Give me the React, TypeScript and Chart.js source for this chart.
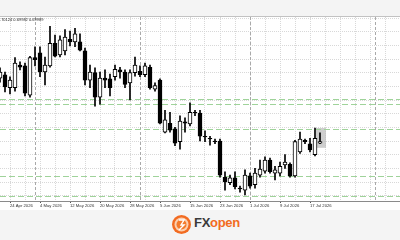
import React, { useEffect, useRef } from "react";
import { Chart, registerables } from "chart.js";

Chart.register(...registerables);

// ---------- data ----------
const dates = [
  "22 Apr 2026", "23 Apr 2026", "24 Apr 2026", "27 Apr 2026", "28 Apr 2026", "29 Apr 2026", "30 Apr 2026",
  "1 May 2026", "4 May 2026", "5 May 2026", "6 May 2026", "7 May 2026", "8 May 2026", "11 May 2026",
  "12 May 2026", "13 May 2026", "14 May 2026", "15 May 2026", "18 May 2026", "19 May 2026", "20 May 2026",
  "21 May 2026", "22 May 2026", "25 May 2026", "26 May 2026", "27 May 2026", "28 May 2026", "29 May 2026",
  "1 Jun 2026", "2 Jun 2026", "3 Jun 2026", "4 Jun 2026", "5 Jun 2026", "8 Jun 2026", "9 Jun 2026",
  "10 Jun 2026", "11 Jun 2026", "12 Jun 2026", "15 Jun 2026", "16 Jun 2026", "17 Jun 2026", "18 Jun 2026",
  "19 Jun 2026", "22 Jun 2026", "23 Jun 2026", "24 Jun 2026", "25 Jun 2026", "26 Jun 2026", "29 Jun 2026",
  "30 Jun 2026", "1 Jul 2026", "2 Jul 2026", "3 Jul 2026", "6 Jul 2026", "7 Jul 2026", "8 Jul 2026",
  "9 Jul 2026", "10 Jul 2026", "13 Jul 2026", "14 Jul 2026", "15 Jul 2026", "16 Jul 2026", "17 Jul 2026",
  "20 Jul 2026", "21 Jul 2026",
];

const opens = [
  0.7092, 0.7097, 0.7078, 0.7078, 0.7111, 0.7110, 0.7067, 0.7122, 0.7129, 0.7101,
  0.7110, 0.7143, 0.7126, 0.7132, 0.7149, 0.7145, 0.7145, 0.7132, 0.7089, 0.7100,
  0.7064, 0.7092, 0.7091, 0.7094, 0.7104, 0.7101, 0.7085, 0.7100, 0.7102, 0.7097,
  0.7108, 0.7076, 0.7089, 0.7013, 0.7026, 0.7018, 0.6999, 0.7028, 0.7025, 0.7042,
  0.7041, 0.7007, 0.7004, 0.7000, 0.7000, 0.6947, 0.6939, 0.6946, 0.6931, 0.6928,
  0.6949, 0.6936, 0.6950, 0.6956, 0.6972, 0.6953, 0.6953, 0.6965, 0.6966, 0.6949,
  0.6984, 0.7001, 0.6996, 0.6980, 0.6997,
];
const highs = [
  0.7107, 0.7101, 0.7094, 0.7122, 0.7116, 0.7114, 0.7124, 0.7138, 0.7138, 0.7123,
  0.7168, 0.7155, 0.7154, 0.7163, 0.7161, 0.7165, 0.7157, 0.7136, 0.7111, 0.7107,
  0.7101, 0.7104, 0.7098, 0.7111, 0.7108, 0.7104, 0.7104, 0.7123, 0.7110, 0.7114,
  0.7111, 0.7085, 0.7091, 0.7045, 0.7042, 0.7020, 0.7037, 0.7034, 0.7056, 0.7045,
  0.7045, 0.7015, 0.7007, 0.7003, 0.7003, 0.6955, 0.6950, 0.6955, 0.6934, 0.6958,
  0.6953, 0.6960, 0.6972, 0.6977, 0.6975, 0.6963, 0.6969, 0.6980, 0.6968, 0.7001,
  0.7013, 0.7003, 0.7004, 0.7019, 0.7012,
];
const lows = [
  0.7086, 0.7072, 0.7069, 0.7073, 0.7104, 0.7066, 0.7064, 0.7110, 0.7094, 0.7082,
  0.7108, 0.7123, 0.7123, 0.7126, 0.7139, 0.7138, 0.7132, 0.7082, 0.7078, 0.7051,
  0.7054, 0.7078, 0.7066, 0.7089, 0.7092, 0.7078, 0.7060, 0.7095, 0.7094, 0.7094,
  0.7076, 0.7073, 0.7025, 0.7012, 0.7013, 0.6993, 0.6988, 0.7013, 0.7022, 0.7037,
  0.7000, 0.6999, 0.6994, 0.6996, 0.6947, 0.6928, 0.6936, 0.6930, 0.6925, 0.6921,
  0.6931, 0.6931, 0.6947, 0.6953, 0.6953, 0.6943, 0.6949, 0.6960, 0.6947, 0.6947,
  0.6982, 0.6996, 0.6984, 0.6978, 0.6996,
];
const closes = [
  0.7101, 0.7079, 0.7089, 0.7114, 0.7108, 0.7070, 0.7122, 0.7119, 0.7101, 0.7111,
  0.7143, 0.7124, 0.7148, 0.7152, 0.7145, 0.7157, 0.7133, 0.7089, 0.7101, 0.7064,
  0.7092, 0.7089, 0.7078, 0.7105, 0.7101, 0.7083, 0.7100, 0.7111, 0.7097, 0.7110,
  0.7078, 0.7081, 0.7026, 0.7031, 0.7016, 0.6997, 0.7029, 0.7026, 0.7042, 0.7041,
  0.7007, 0.7006, 0.7003, 0.6999, 0.6950, 0.6940, 0.6946, 0.6933, 0.6930, 0.6950,
  0.6934, 0.6953, 0.6959, 0.6972, 0.6955, 0.6958, 0.6963, 0.6969, 0.6949, 0.6999,
  0.7003, 0.6999, 0.6987, 0.7004, 0.6999,
];

const futureSlots = 16;
const labelIndices = [2, 8, 14, 20, 26, 32, 38, 44, 50, 56, 62];
const levels = [0.7061, 0.7054, 0.7017, 0.6949, 0.6919];
const separators = [7, 28, 50, 75];
const highlightBox = { from: 63.2, to: 65.2, low: 0.699, high: 0.7019 };
const headerText = "0.70124 0.69982 0.69989";
const yMin = 0.69122;
const yMax = 0.71815;
const yStep = 0.002;

export default function App() {
  const ref = useRef<HTMLCanvasElement>(null);

  useEffect(() => {
    if (!ref.current) return;
    const labels = [...dates, ...Array(futureSlots).fill("")];
    const bodyData = opens.map((o, i) => [o, closes[i]]);
    const wickData = lows.map((l, i) => [l, highs[i]]);
    const up = opens.map((o, i) => closes[i] >= o);

    const overlay = {
      id: "overlay",
      beforeDatasetsDraw(chart: any) {
        const { ctx, chartArea, scales } = chart;
        const xs = scales.x;
        const ys = scales.y;
        ctx.save();
        // highlight box
        const bx0 = xs.getPixelForValue(highlightBox.from);
        const bx1 = xs.getPixelForValue(highlightBox.to);
        const by0 = ys.getPixelForValue(highlightBox.high);
        const by1 = ys.getPixelForValue(highlightBox.low);
        ctx.fillStyle = "rgba(190,190,190,0.75)";
        ctx.fillRect(bx0, by0, bx1 - bx0, by1 - by0);
        // separators
        ctx.strokeStyle = "#a9a9a9";
        ctx.lineWidth = 1;
        ctx.setLineDash([3, 2]);
        separators.forEach((s) => {
          const px = Math.round(xs.getPixelForValue(s)) + 0.5;
          ctx.beginPath();
          ctx.moveTo(px, chartArea.top);
          ctx.lineTo(px, chartArea.bottom);
          ctx.stroke();
        });
        // levels
        ctx.strokeStyle = "#9fd39a";
        ctx.setLineDash([6, 3]);
        levels.forEach((v) => {
          const py = Math.round(ys.getPixelForValue(v)) + 0.5;
          ctx.beginPath();
          ctx.moveTo(chartArea.left, py);
          ctx.lineTo(chartArea.right, py);
          ctx.stroke();
        });
        ctx.restore();
      },
      afterDraw(chart: any) {
        const { ctx } = chart;
        ctx.save();
        ctx.font = "4px 'Liberation Sans', Arial, sans-serif";
        ctx.fillStyle = "#222";
        ctx.textBaseline = "top";
        ctx.fillText(headerText, -2.2, 1);
        ctx.restore();
      },
    };

    const chart = new Chart(ref.current, {
      type: "bar",
      data: {
        labels,
        datasets: [
          {
            label: "body",
            data: bodyData as any,
            backgroundColor: up.map((u) => (u ? "#ffffff" : "#000000")),
            borderColor: "#000000",
            borderWidth: 1,
            borderSkipped: false,
            barThickness: 4,
            grouped: false,
            order: 0,
          } as any,
          {
            label: "wick",
            data: wickData as any,
            backgroundColor: "#000000",
            borderWidth: 0,
            barThickness: 1,
            grouped: false,
            order: 1,
          } as any,
        ],
      },
      options: {
        responsive: false,
        animation: false,
        devicePixelRatio: 1,
        events: [],
        layout: { padding: 0 },
        plugins: {
          legend: { display: false },
          tooltip: { enabled: false },
          title: { display: false },
        },
        scales: {
          x: {
            type: "category",
            offset: false,
            grid: {
              offset: false,
              color: (c: any) => ((c.index - 2) % 3 === 0 ? "#d8d8d8" : "rgba(0,0,0,0)"),
              lineWidth: 1,
              drawTicks: true,
              tickLength: 2,
              tickWidth: 1,
              tickColor: (c: any) => (labelIndices.includes(c.index) ? "#555" : "rgba(0,0,0,0)"),
            },
            border: { display: true, color: "#8a8a8a", width: 1, dash: [1, 1] },
            ticks: {
              autoSkip: false,
              maxRotation: 0,
              minRotation: 0,
              padding: 0,
              align: "start",
              color: "#333",
              font: { family: "'Liberation Sans', Arial, sans-serif", size: 4.2 },
              callback: (_v: any, i: number) => (labelIndices.includes(i) ? dates[i] : ""),
            },
            afterFit: (s: any) => {
              s.height = 9;
            },
          } as any,
          y: {
            type: "linear",
            min: yMin,
            max: yMax,
            grid: { color: "#d8d8d8", drawTicks: false, lineWidth: 1 },
            border: { display: false, dash: [1, 1] },
            ticks: { display: false, stepSize: yStep, includeBounds: false, maxTicksLimit: 50 },
            afterFit: (s: any) => {
              s.width = 0;
            },
          } as any,
        },
      },
      plugins: [overlay],
    });
    return () => chart.destroy();
  }, []);

  return (
    <div
      style={{
        position: "relative",
        width: 400,
        height: 240,
        background: "#f4f4f4",
        overflow: "hidden",
      }}
    >
      <style>{`body{margin:0;}`}</style>
      <div style={{ position: "absolute", left: 0, top: 16, width: 400, height: 1, background: "#c2c2c2" }} />
      <canvas
        ref={ref}
        width={400}
        height={193}
        style={{ position: "absolute", left: 0, top: 17, width: 400, height: 193, background: "#ffffff", display: "block" }}
      />
      <svg style={{ position: "absolute", left: 171, top: 214 }} width={21} height={21} viewBox="0 0 21 21">
        <circle cx={10.5} cy={10.5} r={9.5} fill="#f26b21" />
        <circle cx={10.5} cy={10.5} r={7} fill="#fbd0b0" />
        <circle cx={10.5} cy={10.5} r={5} fill="#f47a2c" />
        <path d="M8 6 L13 6 L10 11 L13 11 L8 16" stroke="#fff" strokeWidth={1.4} fill="none" />
      </svg>
      <div
        style={{
          position: "absolute",
          left: 194,
          top: 215,
          fontFamily: "'Liberation Sans', Arial, sans-serif",
          fontWeight: 700,
          fontSize: 13,
          lineHeight: "15px",
          letterSpacing: -0.3,
          whiteSpace: "nowrap",
        }}
      >
        <span style={{ color: "#3b3b3b" }}>FX</span>
        <span style={{ color: "#f26b21" }}>open</span>
      </div>
    </div>
  );
}
